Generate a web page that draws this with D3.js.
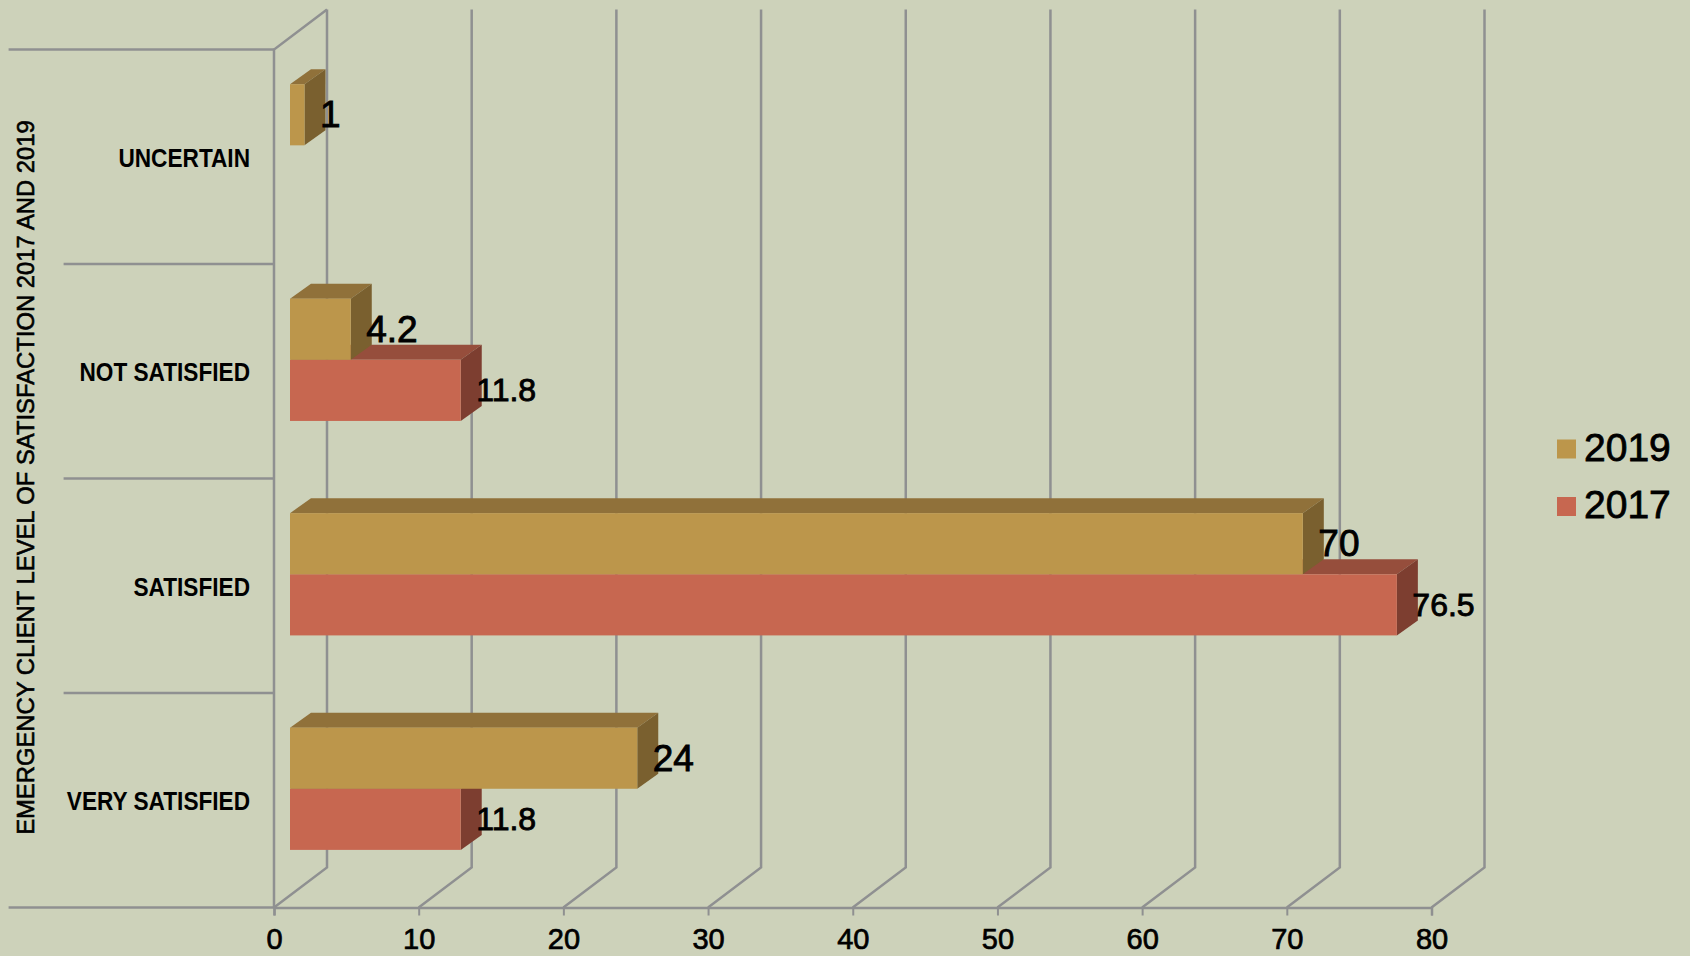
<!doctype html>
<html>
  <head>
    <title>Emergency client satisfaction</title>
    <style>
      * { margin: 0; padding: 0; box-sizing: border-box; }
      body { background: #cdd2ba; overflow: hidden; }
      svg { display: block; }
      text { fill: #000; font-family: "Liberation Sans", Arial, sans-serif; }
      .cat text { font-size: 25px; font-weight: bold; }
      .val text { font-size: 29px; stroke: #000; stroke-width: 0.7px; }
      .grid { stroke: #8f9091; stroke-width: 2.5; fill: none; }
    </style>
  </head>
  <body>
    <svg id="board" width="1690" height="956"></svg>
  <script src="https://d3js.org/d3.v7.min.js"></script>
<script>
    var categories = ['UNCERTAIN', 'NOT SATISFIED', 'SATISFIED', 'VERY SATISFIED']
    var years = ['2017', '2019']
    var values2017 = [null, 11.8, 76.5, 11.8]
    var values2019 = [1, 4.2, 70, 24]
    var axisTicks = [0, 10, 20, 30, 40, 50, 60, 70, 80]
    var titleText = 'EMERGENCY CLIENT LEVEL OF SATISFACTION 2017 AND 2019'

    var seriesValues = {'2017': values2017, '2019': values2019}
    var colors = {
      '2017': {front: '#c76750', top: '#964e3c', side: '#7d3e30', label: 32},
      '2019': {front: '#bc964b', top: '#90713a', side: '#7a602f', label: 37}
    }

    var board = d3.select('#board')
    var wallDx = 53, wallDy = -40      // depth of the floor
    var shiftDx = 16, shiftDy = -11.5  // bars sit a bit inside the depth
    var barDx = 21, barDy = -15

    var x = d3.scaleLinear().domain([0, 80]).range([274, 1431.5])
    var y = d3.scaleBand().domain(categories).range([49.6, 907.5]).paddingInner(0.43).paddingOuter(0.215)
    var y1 = d3.scaleBand().domain(['2019', '2017']).range([0, y.bandwidth()])
    var floorY = y.range()[1], topY = y.range()[0]

    // back wall gridlines with their floor part
    board.append('g').selectAll('path').data(axisTicks).enter().append('path')
      .attr('class', 'grid')
      .attr('d', function(d){
        var px = x(d)
        return 'M' + px + ',' + floorY + 'L' + (px + wallDx) + ',' + (floorY + wallDy) + 'L' + (px + wallDx) + ',' + (topY + wallDy)
      })

    // left wall
    board.append('path').attr('class', 'grid')
      .attr('d', 'M' + x(0) + ',' + floorY + 'L' + x(0) + ',' + topY + 'L' + (x(0) + wallDx) + ',' + (topY + wallDy))
    var seps = d3.range(categories.length + 1)
    board.append('g').selectAll('line').data(seps).enter().append('line')
      .attr('class', 'grid')
      .attr('x1', function(d){ return d == 0 || d == categories.length ? 8.6 : 63.6 })
      .attr('x2', x(0))
      .attr('y1', function(d){ return topY + d * y.step() })
      .attr('y2', function(d){ return topY + d * y.step() })

    // value axis
    var xAxis = board.append('g').attr('class', 'val').attr('transform', 'translate(0,' + floorY + ')')
      .call(d3.axisBottom(x).tickValues(axisTicks).tickSize(8).tickPadding(13).tickFormat(d3.format('d')))
    xAxis.selectAll('line').attr('stroke', '#8f9091').attr('stroke-width', 2)
    xAxis.select('.domain').attr('stroke', '#8f9091').attr('stroke-width', 2.5)

    // category axis, the reference font is a condensed one so squeeze the bold face
    var yAxis = board.append('g').attr('class', 'cat').attr('transform', 'translate(250,2)')
      .call(d3.axisLeft(y).tickSize(0).tickPadding(0))
    yAxis.select('.domain').remove()
    yAxis.selectAll('text').each(function(){
      var len = this.getComputedTextLength()
      d3.select(this).attr('textLength', len * 0.905).attr('lengthAdjust', 'spacingAndGlyphs')
    })

    // title
    board.append('text')
      .attr('transform', 'translate(25,' + (y.range()[0] + y.range()[1] - 2) / 2 + ') rotate(-90)')
      .attr('text-anchor', 'middle')
      .attr('dominant-baseline', 'central')
      .attr('font-size', 23.8)
      .attr('stroke', '#000').attr('stroke-width', 0.6)
      .text(titleText)

    // bars, 2017 first so the 2019 box sits over its top face
    var labels = []
    years.forEach(function(year){
      var c = colors[year]
      seriesValues[year].forEach(function(v, i){
        if (v == null) return
        var x0 = x(0) + shiftDx
        var x1 = x0 + (x(v) - x(0))
        var y0 = y(categories[i]) + y1(year) + shiftDy
        var h = y1.bandwidth()
        var g = board.append('g')
        g.append('polygon').attr('fill', c.top)
          .attr('points', [[x0, y0], [x0 + barDx, y0 + barDy], [x1 + barDx, y0 + barDy], [x1, y0]].join(' '))
        g.append('polygon').attr('fill', c.side)
          .attr('points', [[x1, y0], [x1 + barDx, y0 + barDy], [x1 + barDx, y0 + h + barDy], [x1, y0 + h]].join(' '))
        g.append('rect').attr('fill', c.front)
          .attr('x', x0).attr('y', y0).attr('width', x1 - x0).attr('height', h)
        labels.push({v: v, x: x1 + 15.5, y: y0 + h / 2, size: c.label})
      })
    })

    board.append('g').selectAll('text').data(labels).enter().append('text')
      .attr('x', function(d){ return d.x })
      .attr('y', function(d){ return d.y })
      .attr('dominant-baseline', 'central')
      .attr('font-size', function(d){ return d.size })
      .attr('stroke', '#000').attr('stroke-width', 0.9)
      .text(function(d){ return d.v })

    // legend
    var legend = board.append('g').selectAll('g').data(['2019', '2017']).enter().append('g')
      .attr('transform', function(d, i){ return 'translate(1557,' + (449 + i * 57.5) + ')' })
    legend.append('rect').attr('y', -9.5).attr('width', 19).attr('height', 19)
      .attr('fill', function(d){ return colors[d].front })
    legend.append('text').attr('x', 27).attr('y', -2).attr('dominant-baseline', 'central')
      .attr('font-size', 39)
      .attr('stroke', '#000').attr('stroke-width', 0.8)
      .text(function(d){ return d })
</script>
  </body>
</html>
